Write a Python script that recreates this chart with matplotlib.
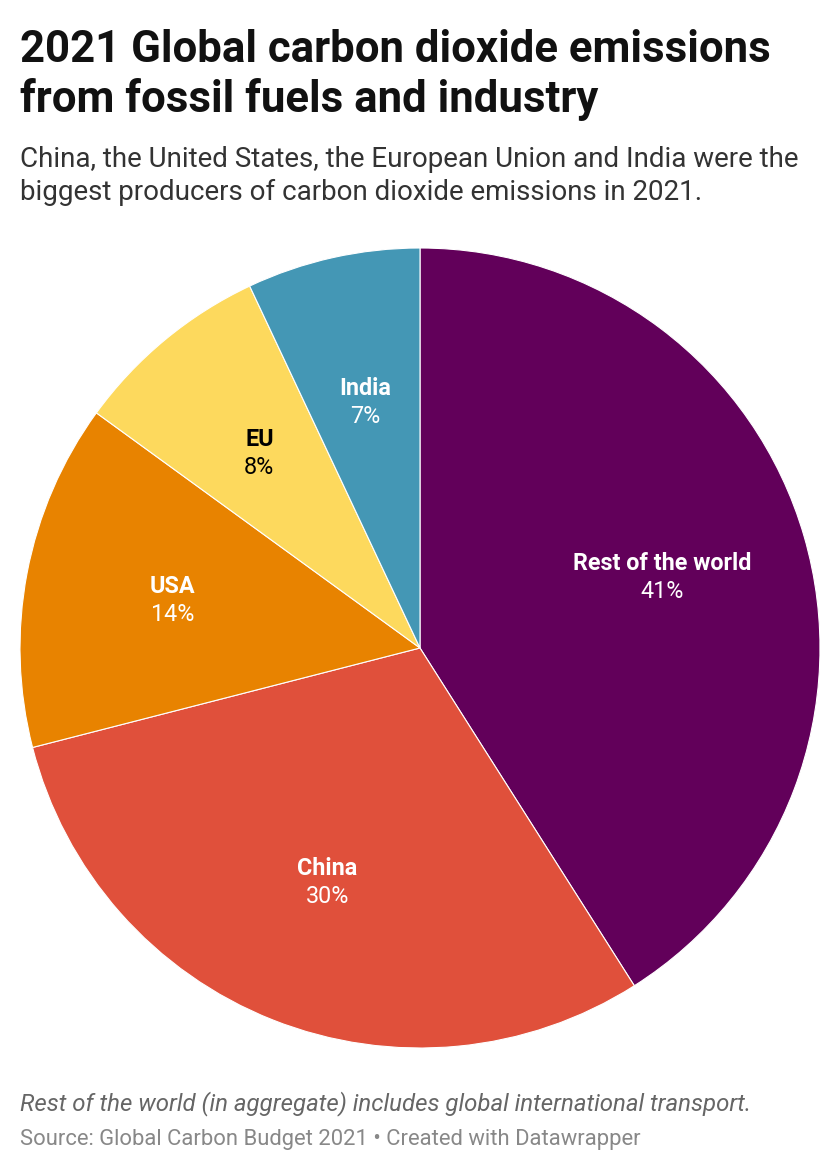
import numpy as np
import matplotlib.pyplot as plt

# 2021 global CO2 emissions share (fossil fuels and industry)
regions = ["Rest of the world", "China", "USA", "EU", "India"]
shares = [41, 30, 14, 8, 7]
colors = ["#62005a", "#e0503b", "#e88300", "#fdd95d", "#4497b5"]
text_colors = ["white", "white", "white", "black", "white"]

title_lines = ["2021 Global carbon dioxide emissions",
               "from fossil fuels and industry"]
subtitle_lines = ["China, the United States, the European Union and India were the",
                  "biggest producers of carbon dioxide emissions in 2021."]

plt.rcParams['font.family'] = ['Roboto', 'DejaVu Sans']

fig = plt.figure(figsize=(8.4, 11.72), dpi=100)
W, H = 840, 1172

# pie area: centre (420, 648), radius 400 px
ax = fig.add_axes([20 / W, (H - 1048) / H, 800 / W, 800 / H])
wedges, _ = ax.pie(shares, colors=colors, startangle=90, counterclock=False,
                   wedgeprops=dict(edgecolor="white", linewidth=0.8))
ax.set_xlim(-1, 1)
ax.set_ylim(-1, 1)
ax.set_aspect("equal")
ax.axis("off")

r_lab = 0.63
for w, name, val, tc in zip(wedges, regions, shares, text_colors):
    mid = np.deg2rad((w.theta1 + w.theta2) / 2)
    x, y = r_lab * np.cos(mid), r_lab * np.sin(mid)
    ax.text(x, y + 0.035, name, ha="center", va="center", color=tc,
            fontsize=16.8, fontweight="bold")
    ax.text(x, y - 0.035, f"{val}%", ha="center", va="center", color=tc,
            fontsize=16.8)

for line, yb in zip(title_lines, [62, 112]):
    fig.text(20 / W, 1 - yb / H, line, ha="left", va="baseline", fontsize=31.5,
             fontweight="bold", color="#111111")
for line, yb in zip(subtitle_lines, [167, 200]):
    fig.text(20 / W, 1 - yb / H, line, ha="left", va="baseline", fontsize=20,
             color="#333333")

fig.text(20 / W, 1 - 1110 / H,
         "Rest of the world (in aggregate) includes global international transport.",
         ha="left", va="baseline", fontsize=17.3, style="italic", color="#666666")
fig.text(20 / W, 1 - 1145 / H,
         "Source: Global Carbon Budget 2021 \u2022 Created with Datawrapper",
         ha="left", va="baseline", fontsize=15.8, color="#888888")

fig.savefig("out.png", dpi=100, facecolor="white")
